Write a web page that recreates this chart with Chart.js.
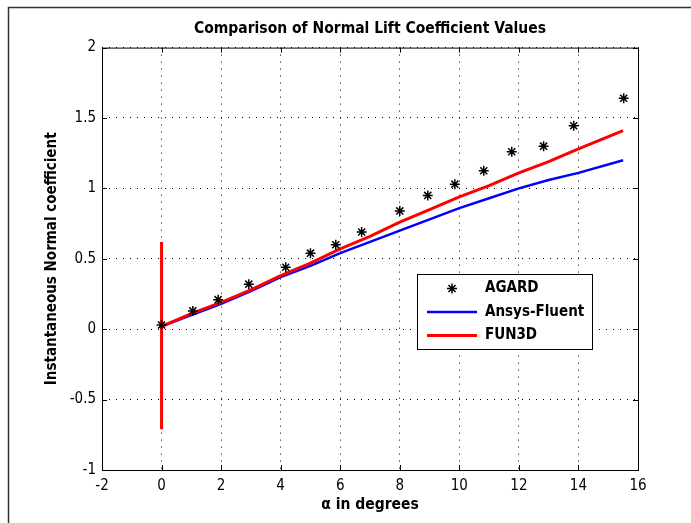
<!DOCTYPE html>
<html>
<head>
<meta charset="utf-8">
<script src="https://cdn.jsdelivr.net/npm/chart.js@4/dist/chart.umd.min.js"></script>
<style>
  html, body { margin: 0; padding: 0; background: #fff; }
  #wrap { width: 691px; height: 523px; }
</style>
</head>
<body>
<div id="wrap"><canvas id="cn-chart" width="691" height="523"></canvas></div>
<script>
const agardAlpha = [0, 1.05, 1.9, 2.93, 4.17, 5.0, 5.85, 6.72, 8.0, 8.94, 9.85, 10.82, 11.76, 12.83, 13.84, 15.52];
const agardCn    = [0.03, 0.13, 0.21, 0.32, 0.44, 0.54, 0.60, 0.69, 0.84, 0.95, 1.03, 1.125, 1.26, 1.30, 1.445, 1.64];

// Ansys-Fluent
const fluentAlpha = [0, 1, 2, 3, 4, 5, 6, 7, 8, 9, 10, 11, 12, 13, 14, 15.5];
const fluentCn    = [0.02, 0.10, 0.18, 0.27, 0.37, 0.45, 0.54, 0.62, 0.70, 0.78, 0.86, 0.93, 1.00, 1.06, 1.11, 1.20];

// FUN3D (starts with the start-up transient at alpha = 0)
const fun3dAlpha = [0, 0, 0, 0, 0, 1, 2, 3, 4, 5, 6, 7, 8, 9, 10, 11, 12, 13, 14, 15.5];
const fun3dCn    = [0.02, 0.62, -0.71, -0.35, 0.02, 0.11, 0.19, 0.28, 0.38, 0.47, 0.57, 0.66, 0.76, 0.85, 0.94, 1.02, 1.11, 1.19, 1.28, 1.41];

const xTicks = [-2, 0, 2, 4, 6, 8, 10, 12, 14, 16];
const yTicks = [-1, -0.5, 0, 0.5, 1, 1.5, 2];

const toPoints = (xs, ys) => xs.map((x, i) => ({ x: x, y: ys[i] }));

const cond = '"DejaVu Sans Condensed", "DejaVu Sans", sans-serif';

// frame, inside ticks, outer figure edge and the legend box
const matlabFrame = {
  id: 'matlabFrame',
  beforeDraw(chart) {
    const ctx = chart.ctx;
    ctx.save();
    ctx.fillStyle = '#fff';
    ctx.fillRect(0, 0, chart.width, chart.height);
    ctx.strokeStyle = '#333';
    ctx.lineWidth = 1.5;
    ctx.beginPath();
    ctx.moveTo(8.5, chart.height);
    ctx.lineTo(8.5, 7.5);
    ctx.lineTo(chart.width, 7.5);
    ctx.stroke();
    ctx.restore();
  },
  afterDraw(chart) {
    const ctx = chart.ctx;
    const a = chart.chartArea;
    const xs = chart.scales.x, ys = chart.scales.y;
    ctx.save();
    ctx.strokeStyle = '#000';
    ctx.lineWidth = 1;
    ctx.strokeRect(a.left + 0.5, a.top + 0.5, a.right - a.left, a.bottom - a.top);
    ctx.beginPath();
    xTicks.forEach(v => {
      const px = Math.round(xs.getPixelForValue(v)) + 0.5;
      ctx.moveTo(px, a.bottom); ctx.lineTo(px, a.bottom - 5);
      ctx.moveTo(px, a.top); ctx.lineTo(px, a.top + 5);
    });
    yTicks.forEach(v => {
      const py = Math.round(ys.getPixelForValue(v)) + 0.5;
      ctx.moveTo(a.left, py); ctx.lineTo(a.left + 5, py);
      ctx.moveTo(a.right, py); ctx.lineTo(a.right - 5, py);
    });
    ctx.stroke();

    // legend
    const L = { x: 417, y: 274, w: 175, h: 75 };
    ctx.fillStyle = '#fff';
    ctx.fillRect(L.x, L.y, L.w, L.h);
    ctx.strokeRect(L.x + 0.5, L.y + 0.5, L.w, L.h);
    ctx.font = 'bold 15px ' + cond;
    ctx.textBaseline = 'middle';
    chart.data.datasets.forEach((ds, i) => {
      const cy = L.y + 14.5 + i * 23.5;
      if (ds.showLine) {
        ctx.strokeStyle = ds.borderColor;
        ctx.lineWidth = ds.borderWidth;
        ctx.beginPath();
        ctx.moveTo(L.x + 10, cy); ctx.lineTo(L.x + 60, cy);
        ctx.stroke();
      } else {
        ctx.strokeStyle = ds.pointBorderColor;
        ctx.lineWidth = ds.pointBorderWidth;
        const cx = L.x + 35, r = ds.pointRadius;
        ctx.beginPath();
        for (let k = 0; k < 4; k++) {
          const t = k * Math.PI / 4;
          ctx.moveTo(cx - r * Math.cos(t), cy - r * Math.sin(t));
          ctx.lineTo(cx + r * Math.cos(t), cy + r * Math.sin(t));
        }
        ctx.stroke();
      }
      ctx.fillStyle = '#000';
      ctx.textAlign = 'left';
      ctx.fillText(ds.label, L.x + 68, cy);
    });
    ctx.restore();
  }
};

new Chart(document.getElementById('cn-chart'), {
  type: 'scatter',
  data: {
    datasets: [{
      label: 'AGARD',
      data: toPoints(agardAlpha, agardCn),
      showLine: false,
      pointStyle: 'star',
      pointRadius: 5,
      pointBorderColor: '#000',
      pointBackgroundColor: '#000',
      pointBorderWidth: 1.5,
      order: 0
    }, {
      label: 'Ansys-Fluent',
      data: toPoints(fluentAlpha, fluentCn),
      showLine: true,
      borderColor: '#0000ff',
      borderWidth: 2.5,
      pointRadius: 0,
      order: 2
    }, {
      label: 'FUN3D',
      data: toPoints(fun3dAlpha, fun3dCn),
      showLine: true,
      borderColor: '#ff0000',
      borderWidth: 3,
      pointRadius: 0,
      order: 1
    }]
  },
  options: {
    responsive: false,
    animation: false,
    layout: { padding: { left: 0, right: 53, top: 0, bottom: 0 } },
    plugins: {
      legend: { display: false },
      tooltip: { enabled: false },
      title: {
        display: true,
        fullSize: false,
        text: 'Comparison of Normal Lift Coefficient Values',
        color: '#000',
        font: { family: cond, size: 15.5, weight: 'bold', lineHeight: 1.2 },
        padding: { top: 20, bottom: 9 }
      }
    },
    scales: {
      x: {
        type: 'linear',
        min: -2, max: 16,
        afterBuildTicks: s => { s.ticks = xTicks.map(v => ({ value: v })); },
        afterFit: s => { s.height = 53; },
        grid: { color: '#000', lineWidth: 1, drawTicks: false },
        border: { display: false, dash: [1, 6] },
        ticks: { color: '#000', padding: 7, font: { family: cond, size: 15 }, maxRotation: 0,
                 callback: v => String(v) },
        title: {
          display: true,
          text: 'α in degrees',
          color: '#000',
          font: { family: cond, size: 15.5, weight: 'bold', lineHeight: 1.2 },
          padding: { top: 0, bottom: 9 }
        }
      },
      y: {
        type: 'linear',
        min: -1, max: 2,
        afterBuildTicks: s => { s.ticks = yTicks.map(v => ({ value: v })); },
        afterFit: s => { s.width = 102; },
        grid: { color: '#000', lineWidth: 1, drawTicks: false },
        border: { display: false, dash: [1, 6] },
        ticks: { color: '#000', padding: 6, font: { family: cond, size: 15 },
                 callback: v => String(v) },
        title: {
          display: true,
          text: 'Instantaneous Normal coefficient',
          color: '#000',
          font: { family: cond, size: 15, weight: 'bold', lineHeight: 1.2 },
          padding: { top: 43, bottom: 0 }
        }
      }
    }
  },
  plugins: [matlabFrame]
});
</script>
</body>
</html>
